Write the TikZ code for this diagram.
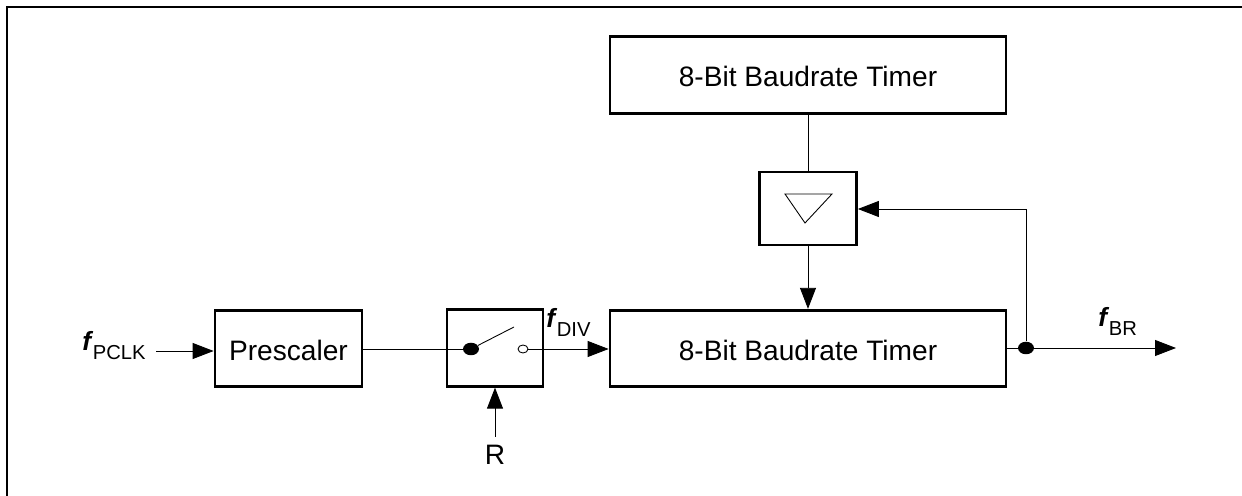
\documentclass[tikz,border=0pt]{standalone}
\usepackage{fontspec}
\setmainfont{Liberation Sans}
\usetikzlibrary{arrows.meta,shapes.geometric}
\tikzset{
  blockbox/.style={draw,line width=1.6pt,inner sep=0pt,minimum height=1.53cm},
  blocktext/.style={font=\fontsize{16}{18}\selectfont,text height=13.2pt,text depth=0pt},
  label/.style={font=\fontsize{16}{18}\selectfont,inner sep=0pt},
  wire/.style={line width=0.5pt},
  flow/.style={wire,-{Triangle[length=0.42cm,width=0.32cm]}},
  soliddot/.style={ellipse,fill=black,inner sep=0pt,minimum width=0.32cm,minimum height=0.25cm},
  opendot/.style={ellipse,draw,wire,fill=white,inner sep=0pt,minimum width=0.2cm,minimum height=0.16cm}
}
\newcommand{\freq}[1]{{\fontsize{15}{16}\selectfont\bfseries\itshape f}\kern1pt\raisebox{-5pt}{\fontsize{11.5}{13}\selectfont #1}}
\begin{document}
\begin{tikzpicture}[x=0.02cm,y=-0.02cm]
  \useasboundingbox (0,0) rectangle (1242,496);
  % Frame
  \draw[line width=1.15pt] (7,496) -- (7,7) -- (1242,7);

  % Blocks
  \node[blockbox,blocktext,minimum width=7.92cm] (reload) at (808,75) {8-Bit Baudrate Timer};
  \node[blockbox,blocktext,minimum width=7.92cm] (timer) at (808,348.5) {8-Bit Baudrate Timer};
  \node[blockbox,blocktext,minimum width=2.94cm] (prescaler) at (288.5,348.5) {Prescaler};
  \node[blockbox,minimum width=1.92cm] (switch) at (495,348) {};
  \node[blockbox,minimum width=1.94cm,minimum height=1.46cm] (toggle) at (808,208.5) {};
  \draw[wire] (785,194) -- (832,194) -- (805,223) -- cycle;

  % Switch
  \node[soliddot] (swin) at (471,349) {};
  \node[opendot] (swout) at (523,349) {};
  \coordinate (swtip) at (514,327);
  \draw[wire] (swin) -- (swtip);

  % Labels
  \node[label,anchor=base west] (fpclk) at (82,351) {\freq{PCLK}};
  \node[label,anchor=base west] (fdiv) at (546,328) {\freq{DIV}};
  \node[label,anchor=base west] (fbr) at (1098,327) {\freq{BR}};
  \node[label] (reset) at (495,455) {R};

  % Free ends
  \coordinate (pclkstart) at (156,351);
  \coordinate (resetstart) at (495,437);
  \coordinate (brend) at (1176,348);
  \node[soliddot] (branch) at (1026,348) {};
  \coordinate (feedback) at (1026,209);

  % Connectors
  \draw[flow] (pclkstart) -- (pclkstart -| prescaler.west);
  \draw[wire] (prescaler.east |- swin) -- (swin);
  \draw[flow] (swout) -- (swout -| timer.west);
  \draw[flow] (resetstart) -- (switch.south);
  \draw[wire] (reload.south) -- (toggle.north);
  \draw[flow] (toggle.south) -- (timer.north);
  \draw[wire] (timer.east |- branch) -- (branch);
  \draw[flow] (branch) -- (brend);
  \draw[wire] (branch) -- (feedback);
  \draw[flow] (feedback) -- (feedback -| toggle.east);
\end{tikzpicture}
\end{document}
